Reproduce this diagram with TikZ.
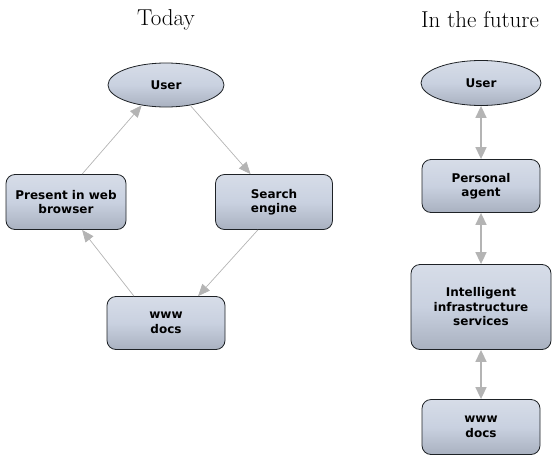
\documentclass[tikz,border=0pt]{standalone}
\usepackage{fontspec}
\setsansfont{DejaVu Sans}
\usetikzlibrary{arrows.meta,positioning,shapes.geometric}
\definecolor{Box}{HTML}{C9D1E0}
\definecolor{BoxDark}{HTML}{A9B1C0}
\definecolor{Edge}{HTML}{1E2226}
\definecolor{Wire}{HTML}{B4B4B4}
\begin{document}
\begin{tikzpicture}[x=1pt,y=-1pt,
    box/.style={draw=Edge,thick,rounded corners=9pt,align=center,
      top color=Box!75!white,bottom color=BoxDark,middle color=Box,
      font=\sffamily\bfseries\fontsize{12}{14.5}\selectfont,inner sep=2pt},
    oval/.style={box,ellipse,rounded corners=0pt},
    flow/.style={draw=Wire,line width=0.7pt,-{Triangle[length=12pt,width=10pt,fill=Wire]}},
    link/.style={draw=Wire,line width=1.6pt,{Triangle[length=12pt,width=11pt,fill=Wire]}-{Triangle[length=12pt,width=11pt,fill=Wire]}},
    title/.style={font=\fontsize{23}{26}\selectfont}]
  \useasboundingbox (0,0) rectangle (556,463);
  % today
  \node[title] (today) at (166,20) {Today};
  \node[oval,minimum width=116pt,minimum height=44pt] (user) at (166,85) {User};
  \node[box,minimum width=120pt,minimum height=55pt] (browser) at (66,202) {Present in web\\browser};
  \node[box,minimum width=117pt,minimum height=55pt] (search) at (274,202) {Search\\engine};
  \node[box,minimum width=118pt,minimum height=53pt] (docs) at (166,323) {www\\docs};
  \draw[flow] (user.-40) -- (search.130);
  \draw[flow] (search.-120) -- (docs.40);
  \draw[flow] (docs.140) -- (browser.-60);
  \draw[flow] (browser.60) -- (user.-140);
  % future
  \node[title] (future) at (480,20) {In the future};
  \node[oval,minimum width=120pt,minimum height=45pt] (fuser) at (481,83) {User};
  \node[box,minimum width=118pt,minimum height=53pt] (agent) at (481,186) {Personal\\agent};
  \node[box,minimum width=140pt,minimum height=85pt] (infra) at (481,307) {Intelligent\\infrastructure\\services};
  \node[box,minimum width=118pt,minimum height=55pt] (fdocs) at (481,427) {www\\docs};
  \draw[link] (fuser.south) -- (agent.north);
  \draw[link] (agent.south) -- (infra.north);
  \draw[link] (infra.south) -- (fdocs.north);
\end{tikzpicture}
\end{document}
